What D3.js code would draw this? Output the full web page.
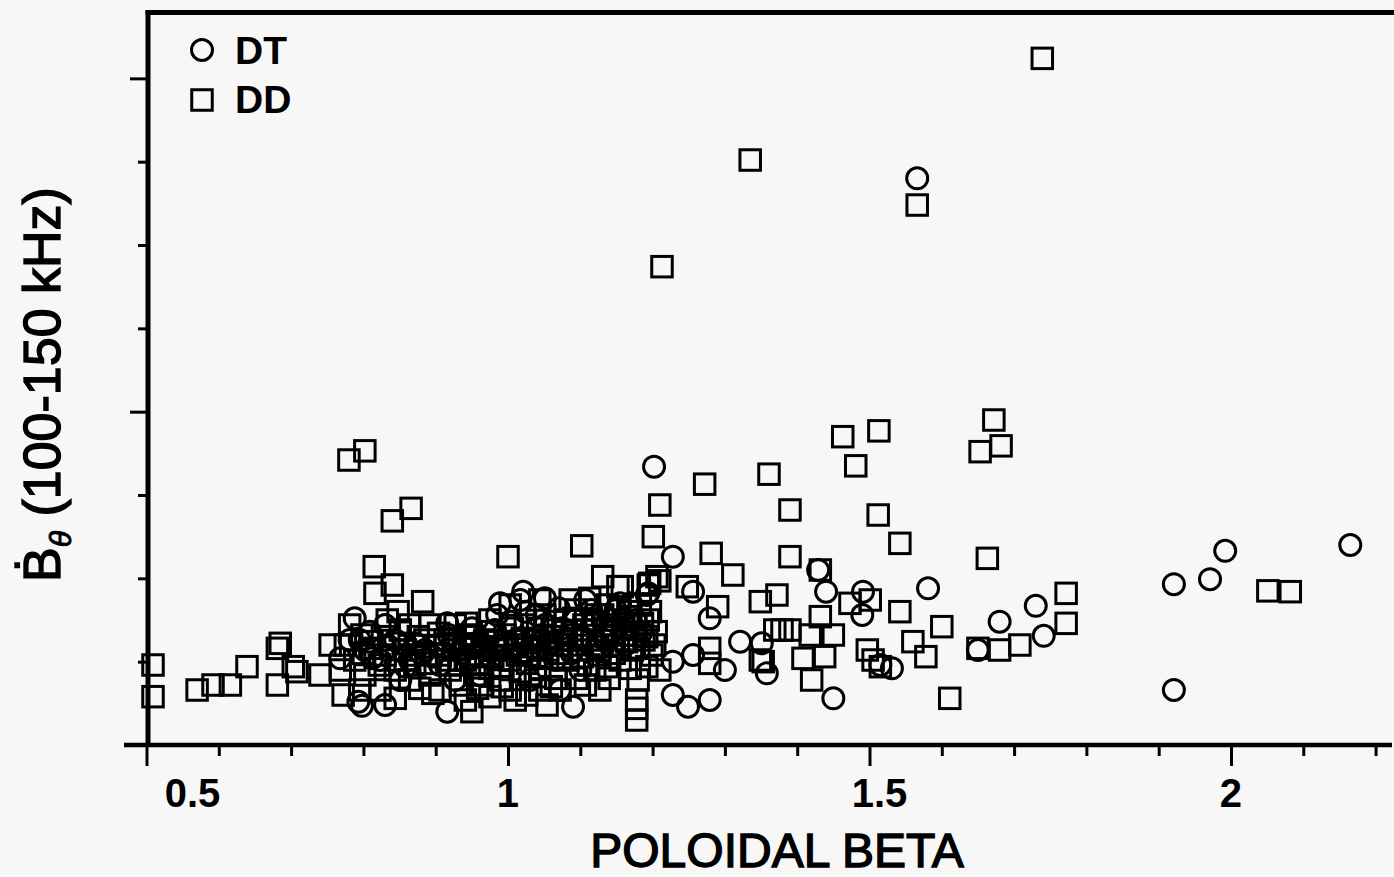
<!DOCTYPE html>
<html>
<head>
<meta charset="utf-8">
<script src="https://cdn.jsdelivr.net/npm/d3@7"></script>
<style>
  html, body { margin: 0; padding: 0; background: #f7f7f7; }
  svg { display: block; background: #f7f7f7; }
  text { font-family: "Liberation Sans", Arial, Helvetica, sans-serif; fill: #000; }
</style>
</head>
<body>
<svg id="chart" width="1394" height="877"></svg>
<script>
// DT discharges: poloidal beta and Bdot amplitude (100-150 kHz band)
const dtBeta = [
  1.566, 1.202, 2.165, 1.992, 1.971, 1.921, 1.921, 1.581, 1.730, 1.680,
  1.741, 1.650, 1.531, 1.515, 1.429, 1.440, 1.228, 1.491, 1.490, 1.256,
  1.194, 1.279, 1.321, 1.358, 1.351, 1.256, 1.228, 1.300, 1.228, 1.249,
  1.279, 1.450, 0.793, 0.798, 0.830, 0.916, 1.090, 1.021, 0.989, 1.192,
  1.155, 0.916, 0.795, 0.809, 0.788, 1.051,
  0.864, 0.885, 0.906, 0.927, 0.947, 0.968, 0.982, 0.996, 1.010, 1.024,
  1.037, 1.051, 1.065, 1.079, 1.093, 1.107, 1.120, 1.134, 1.149, 1.162,
  1.176, 1.072, 1.030, 0.961, 0.927, 0.823, 0.802, 0.781, 0.768, 0.844,
  0.830, 1.017, 1.100, 0.851,
  0.812, 0.836, 0.858, 0.872, 0.896, 0.918, 0.936, 0.955, 0.975, 0.992,
  1.005, 1.020, 1.042, 1.058, 1.075, 1.088, 1.102, 1.116, 1.130, 1.145,
  1.160, 1.185, 1.070, 1.040, 0.985, 0.950, 1.115, 1.170, 0.880
];
const dtBdot = [
  6.80, 3.34, 2.40, 2.33, 1.99, 1.93, 0.66, 1.88, 1.67, 1.48,
  1.31, 1.14, 0.92, 0.96, 2.10, 1.84, 2.26, 1.84, 1.56, 1.84,
  1.82, 1.52, 1.24, 0.86, 1.22, 1.08, 1.00, 0.90, 0.60, 0.46,
  0.54, 0.56, 0.52, 0.47, 0.48, 0.40, 0.46, 1.84, 1.70, 1.80,
  1.70, 1.46, 1.26, 1.36, 1.52, 1.76,
  1.02, 1.14, 0.96, 1.20, 1.02, 1.14, 1.38, 1.02, 1.26, 1.60,
  1.14, 1.44, 1.02, 1.26, 1.50, 1.74, 1.14, 1.26, 1.62, 1.20,
  1.50, 0.66, 0.78, 0.84, 0.78, 1.02, 1.14, 1.26, 1.04, 1.26,
  1.44, 1.74, 0.90, 0.78,
  1.04, 1.18, 0.94, 1.22, 1.06, 1.32, 1.10, 1.22, 1.04, 1.20,
  1.48, 1.10, 1.30, 1.22, 1.40, 1.10, 1.30, 1.46, 1.12, 1.36,
  1.52, 1.36, 1.64, 1.56, 1.56, 1.40, 1.62, 1.70, 1.10
];

// DD discharges
const ddBeta = [
  1.739, 1.335, 1.566, 1.213, 1.672, 1.653, 1.682, 1.463, 1.513, 1.481,
  0.780, 0.802, 0.840, 0.866, 1.361, 1.210, 1.272, 1.390, 1.512, 1.201,
  1.542, 1.000, 1.102, 1.281, 1.390, 1.663, 0.815, 1.311, 1.210, 1.131,
  1.772, 1.772, 2.051, 2.082, 1.611, 1.708, 1.680, 1.600, 1.578, 1.542,
  1.432, 1.248, 1.152, 0.840, 0.816, 0.882, 0.833, 0.781, 0.754, 0.685,
  0.681, 0.639, 0.703, 0.708, 0.681, 0.740, 0.570, 0.592, 0.616, 0.509,
  0.509, 0.772, 1.196, 1.290, 1.349, 1.372, 1.432, 1.473, 1.501, 1.279,
  1.279, 1.369, 1.379, 1.390, 1.418, 1.450, 1.438, 1.408, 1.353, 1.420,
  1.497, 1.505, 1.515, 1.560, 1.178, 1.178, 1.178, 0.896, 0.950, 1.054,
  1.003, 1.026, 0.965, 1.137, 1.169, 1.192, 1.173, 0.943, 1.206, 1.158,
  1.194, 1.349, 1.650, 1.120, 1.210,
  0.858, 0.871, 0.885, 0.892, 0.906, 0.913, 0.920, 0.927, 0.934, 0.941,
  0.947, 0.954, 0.961, 0.968, 0.975, 0.982, 0.989, 0.996, 1.003, 1.010,
  1.017, 1.024, 1.030, 1.037, 1.044, 1.051, 1.055, 1.061, 1.066, 1.072,
  1.079, 1.083, 1.089, 1.094, 1.100, 1.105, 1.111, 1.116, 1.122, 1.127,
  1.133, 1.138, 1.144, 1.149, 1.155, 1.160, 1.166, 1.172, 1.177, 1.183,
  1.188, 1.194, 1.199, 1.205, 0.878, 0.906, 0.941, 0.975, 1.010, 1.044,
  1.072, 1.107, 1.127, 1.086, 1.113, 1.044, 1.003, 0.975, 0.947, 0.927,
  0.892, 0.851, 0.864, 0.844, 0.830, 0.809, 0.788, 0.768, 0.775, 0.802,
  0.823, 0.795, 0.844, 0.798, 0.848, 0.864,
  0.800, 0.812, 0.822, 0.835, 0.846, 0.855, 0.868, 0.876, 0.888, 0.898,
  0.904, 0.915, 0.924, 0.932, 0.938, 0.952, 0.958, 0.964, 0.972, 0.979,
  0.986, 0.993, 0.999, 1.006, 1.013, 1.020, 1.027, 1.034, 1.041, 1.047,
  1.058, 1.064, 1.069, 1.076, 1.081, 1.091, 1.097, 1.103, 1.109, 1.118,
  1.124, 1.131, 1.136, 1.142, 1.147, 1.153, 1.158, 1.164, 1.170, 1.175,
  1.181, 1.186, 1.192, 1.197, 1.203, 0.958, 0.992, 1.038, 1.060, 1.095,
  1.140, 1.180
];
const ddBdot = [
  8.24, 7.02, 6.48, 5.74, 3.90, 3.52, 3.59, 3.70, 3.77, 3.35,
  3.42, 3.53, 2.69, 2.84, 3.25, 2.88, 3.13, 2.82, 2.76, 2.50,
  2.42, 2.26, 2.39, 2.30, 2.26, 2.24, 2.14, 2.04, 1.97, 2.02,
  1.82, 1.46, 1.85, 1.84, 0.56, 1.20, 1.14, 1.42, 1.06, 1.60,
  2.10, 1.90, 1.90, 1.92, 1.82, 1.72, 1.50, 1.44, 1.20, 1.22,
  1.16, 0.94, 0.94, 0.88, 0.72, 0.84, 0.66, 0.72, 0.72, 0.96,
  0.58, 0.60, 1.94, 1.66, 1.72, 1.80, 1.54, 1.70, 1.74, 1.16,
  0.98, 1.38, 1.38, 1.38, 1.32, 1.32, 1.06, 1.04, 1.00, 0.78,
  1.14, 1.02, 0.94, 1.24, 0.54, 0.44, 0.30, 0.62, 0.40, 0.48,
  0.66, 0.60, 0.72, 0.94, 0.92, 0.94, 1.16, 1.46, 2.02, 1.90,
  1.92, 1.02, 1.16, 0.90, 0.90,
  1.14, 0.96, 1.26, 0.84, 1.08, 1.26, 0.90, 1.14, 0.72, 1.02,
  1.20, 0.84, 1.08, 1.26, 0.92, 1.14, 0.78, 1.32, 1.02, 1.20,
  0.88, 1.44, 1.08, 1.26, 0.92, 1.56, 1.14, 1.38, 0.80, 1.20,
  1.50, 1.02, 1.32, 1.62, 1.14, 1.44, 0.96, 1.26, 1.56, 1.08,
  1.38, 1.68, 1.20, 1.50, 1.02, 1.32, 1.60, 1.14, 1.44, 1.68,
  1.26, 1.50, 1.08, 1.36, 0.68, 0.66, 0.54, 0.58, 0.54, 0.66,
  0.66, 0.72, 0.66, 1.74, 1.76, 1.74, 1.68, 1.50, 1.32, 1.44,
  1.44, 1.38, 0.78, 0.90, 1.08, 1.16, 1.02, 0.90, 1.20, 0.84,
  0.66, 0.66, 0.56, 1.32, 1.60, 1.44,
  1.10, 1.24, 0.96, 1.30, 1.02, 1.22, 1.08, 1.30, 0.98, 1.18,
  1.34, 1.02, 1.28, 0.96, 1.16, 1.30, 0.98, 1.18, 1.36, 1.06,
  1.24, 0.94, 1.16, 1.40, 1.08, 1.28, 0.98, 1.18, 1.40, 1.04,
  1.30, 1.48, 1.10, 1.36, 1.20, 1.52, 1.26, 1.06, 1.38, 1.48,
  1.18, 1.56, 1.30, 1.44, 1.10, 1.62, 1.40, 1.24, 1.54, 1.32,
  1.16, 1.46, 1.30, 1.60, 1.20, 0.68, 0.70, 0.82, 0.70, 0.80,
  0.80, 0.78
];

// Axis ticks
const xMajorTicks = [0.5, 1, 1.5, 2];
const xMinorTicks = [0.6, 0.7, 0.8, 0.9, 1.1, 1.2, 1.3, 1.4, 1.6, 1.7, 1.8, 1.9, 2.1, 2.2];
const xTickLabels = ["0.5", "1", "1.5", "2"];
const yMajorTicks = [4, 8];
const yMinorTicks = [1, 2, 3, 5, 6, 7];

const legendItems = ["DT", "DD"];
const xTitle = "POLOIDAL BETA";

const svg = d3.select("#chart");

const x = d3.scaleLinear().domain([0.5, 2.2227]).range([146.5, 1392]);
const y = d3.scaleLinear().domain([0, 8.8]).range([745, 11.7]);

const axisX0 = 148;   // left frame line
const axisY0 = 745;   // bottom frame line

// Y ticks
function styleTicks(g) {
  g.select(".domain").remove();
  g.selectAll(".tick line").attr("stroke", "#000").attr("stroke-width", 3);
}
svg.append("g")
  .attr("transform", `translate(${axisX0},0)`)
  .call(d3.axisLeft(y).tickValues(yMinorTicks).tickSize(10).tickFormat(""))
  .call(styleTicks);
svg.append("g")
  .attr("transform", `translate(${axisX0},0)`)
  .call(d3.axisLeft(y).tickValues(yMajorTicks).tickSize(18).tickFormat(""))
  .call(styleTicks);

// X ticks
svg.append("g")
  .attr("transform", `translate(0,${axisY0})`)
  .call(d3.axisBottom(x).tickValues(xMinorTicks).tickSize(11).tickFormat(""))
  .call(styleTicks);
svg.append("g")
  .attr("transform", `translate(0,${axisY0})`)
  .call(d3.axisBottom(x).tickValues(xMajorTicks).tickSize(21).tickFormat(""))
  .call(styleTicks);

// Frame lines
svg.append("line")
  .attr("x1", 124).attr("x2", x(2.2227))
  .attr("y1", axisY0).attr("y2", axisY0)
  .attr("stroke", "#000").attr("stroke-width", 4.5);
svg.append("line")
  .attr("x1", axisX0).attr("x2", axisX0)
  .attr("y1", 10).attr("y2", axisY0 + 2)
  .attr("stroke", "#000").attr("stroke-width", 5);
svg.append("line")
  .attr("x1", axisX0 - 2.5).attr("x2", 1394)
  .attr("y1", 12.5).attr("y2", 12.5)
  .attr("stroke", "#000").attr("stroke-width", 5);

// X tick labels (first and third shifted right as on the printed axis)
const labelShift = { "0.5": 46, "1": 0, "1.5": 10, "2": 0 };
svg.append("g").selectAll("text")
  .data(xMajorTicks)
  .join("text")
  .attr("x", (d, i) => x(d) + labelShift[xTickLabels[i]])
  .attr("y", 807)
  .attr("text-anchor", "middle")
  .attr("font-size", 40)
  .attr("font-weight", "bold")
  .text((d, i) => xTickLabels[i]);

// Axis titles
svg.append("text")
  .attr("x", 777).attr("y", 867)
  .attr("text-anchor", "middle")
  .attr("font-size", 48)
  .attr("stroke", "#000").attr("stroke-width", 1.4)
  .text(xTitle);

const yTitle = svg.append("text")
  .attr("transform", "translate(60,582) rotate(-90)")
  .attr("font-size", 52)
  .attr("stroke", "#000").attr("stroke-width", 1.4);
yTitle.append("tspan").text("\u1E02");
yTitle.append("tspan")
  .attr("font-size", 30).attr("font-style", "italic").attr("dy", 11)
  .attr("stroke-width", 1)
  .text("\u03B8");
yTitle.append("tspan").attr("dy", -11).text(" (100-150 kHz)");

// Markers
const markerStroke = 3;
const sq = 20.5;
const r = 10.5;

svg.append("g").selectAll("rect")
  .data(d3.range(ddBeta.length))
  .join("rect")
  .attr("x", i => x(ddBeta[i]) - sq / 2)
  .attr("y", i => y(ddBdot[i]) - sq / 2)
  .attr("width", sq).attr("height", sq)
  .attr("fill", "none").attr("stroke", "#000").attr("stroke-width", markerStroke);

svg.append("g").selectAll("circle")
  .data(d3.range(dtBeta.length))
  .join("circle")
  .attr("cx", i => x(dtBeta[i]))
  .attr("cy", i => y(dtBdot[i]))
  .attr("r", r)
  .attr("fill", "none").attr("stroke", "#000").attr("stroke-width", markerStroke);

// Legend
const legend = svg.append("g");
legend.append("circle")
  .attr("cx", 202).attr("cy", 50).attr("r", r)
  .attr("fill", "none").attr("stroke", "#000").attr("stroke-width", markerStroke);
legend.append("rect")
  .attr("x", 202 - sq / 2).attr("y", 100 - sq / 2).attr("width", sq).attr("height", sq)
  .attr("fill", "none").attr("stroke", "#000").attr("stroke-width", markerStroke);
legend.selectAll("text")
  .data(legendItems)
  .join("text")
  .attr("x", 235)
  .attr("y", (d, i) => 64 + i * 49)
  .attr("font-size", 39)
  .attr("font-weight", "bold")
  .text(d => d);
</script>
</body>
</html>
